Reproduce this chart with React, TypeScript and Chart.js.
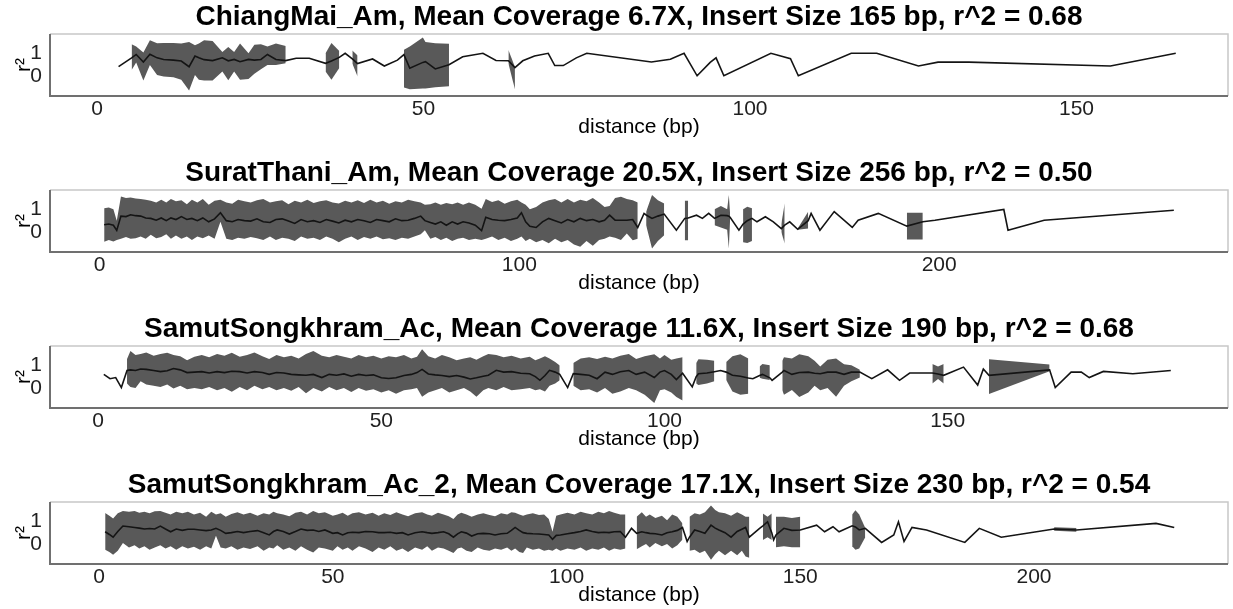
import React, { useEffect, useRef } from "react";
import { Chart, registerables } from "chart.js";

Chart.register(...registerables);

const FONT = "'Liberation Sans', Arial, Helvetica, sans-serif";

// ---------- shared axis ticks ----------
const yTicks = [0, 1];
const yLimits = [-0.88, 1.85];

// ---------- Panel 1: ChiangMai_Am ----------
const title1 = "ChiangMai_Am, Mean Coverage 6.7X, Insert Size 165 bp, r^2 = 0.68";
const xTicks1 = [0, 50, 100, 150];
const xLimits1 = [-7.2, 173.2];
const dist1 = [3.3, 5.3, 6.0, 7.1, 8.1, 9.2, 10.2, 11.7, 12.9, 14.1,
  15.0, 15.6, 16.4, 17.7, 19.2, 20.1, 21.0, 21.9, 23.2, 24.1,
  25.1, 26.1, 27.4, 28.9, 30.5, 32.5, 35.0, 35.9, 37.1, 38.0,
  39.1, 39.9, 42.2, 44.0, 46.0, 47.0, 47.9, 49.9, 50.3, 51.8,
  53.9, 56.0, 59.1, 61.1, 63.0, 64.0, 65.2, 67.0, 69.1, 70.1,
  71.4, 73.4, 75.0, 84.9, 87.8, 89.9, 91.9, 93.9, 94.8, 96.0,
  103.2, 106.2, 107.4, 115.5, 119.4, 125.8, 128.8, 133.5, 155.2, 165.2];
const mean1 = [0.41, 0.8, 0.95, 0.62, 0.96, 0.8, 0.73, 0.7, 0.66, 0.41,
  0.88, 0.8, 0.72, 0.68, 0.8, 0.67, 0.73, 0.63, 0.73, 0.7,
  0.73, 0.95, 0.73, 0.68, 0.78, 0.78, 0.56, 0.66, 0.82, 1.0,
  0.75, 0.55, 0.75, 0.44, 0.7, 0.94, 0.34, 0.6, 0.63, 0.31,
  0.5, 0.85, 1.0, 0.68, 0.67, 0.37, 0.67, 0.88, 1.0, 0.46,
  0.46, 0.8, 1.0, 0.62, 0.74, 1.0, 0.01, 0.6, 0.8, 0.01,
  1.0, 0.76, 0.01, 1.0, 1.0, 0.44, 0.61, 0.61, 0.44, 1.0];
const lower1 = [null, 0.27, 0.6, -0.2, 0.48, 0.05, -0.02, -0.05, -0.16, -0.64,
  0.05, -0.16, -0.2, -0.2, 0.2, -0.19, 0.2, -0.16, -0.13, 0.1,
  0.3, 0.48, 0.48, 0.56, null, null, 0.2, -0.16, 0.35, null,
  0.55, -0.02, null, null, null, -0.5, -0.58, -0.55, -0.55, -0.5,
  -0.45, null, null, null, 0.55, -0.58, null, null, null, null,
  null, null, null, null, null, null, null, null, null, null,
  null, null, null, null, null, null, null, null, null, null];
const upper1 = [null, 1.4, 1.3, 1.03, 1.58, 1.44, 1.45, 1.45, 1.43, 1.5,
  1.36, 1.43, 1.57, 1.54, 1.06, 1.28, 1.06, 1.43, 1.0, 1.38,
  1.4, 1.3, 1.43, 1.32, null, null, 1.0, 1.45, 1.1, null,
  1.12, 0.9, null, null, null, 1.15, 1.3, 1.7, 1.5, 1.44,
  1.42, null, null, null, 1.15, 0.4, null, null, null, null,
  null, null, null, null, null, null, null, null, null, null,
  null, null, null, null, null, null, null, null, null, null];

// ---------- Panel 2: SuratThani_Am ----------
const title2 = "SuratThani_Am, Mean Coverage 20.5X, Insert Size 256 bp, r^2 = 0.50";
const xTicks2 = [0, 100, 200];
const xLimits2 = [-11.8, 268.8];
const dist2 = [1.1, 2.2, 3.3, 4.1, 5.1, 6.3, 7.4, 8.6, 9.8, 11.0,
  12.2, 13.5, 14.7, 15.9, 17.0, 18.2, 19.5, 20.8, 22.0, 23.3,
  24.6, 26.0, 27.4, 28.8, 30.2, 31.6, 33.0, 34.5, 36.0, 37.5,
  39.0, 40.6, 42.0, 43.5, 45.0, 46.5, 48.0, 49.5, 51.0, 52.5,
  54.0, 55.5, 57.0, 58.5, 60.0, 61.5, 63.0, 64.5, 66.0, 67.5,
  69.0, 70.5, 72.0, 73.5, 75.0, 76.5, 77.5, 78.8, 80.0, 81.3,
  82.6, 84.0, 85.3, 86.6, 88.0, 89.5, 91.0, 92.0, 93.5, 95.0,
  96.5, 98.0, 99.5, 100.5, 101.5, 102.5, 104.0, 105.5, 107.0, 108.5,
  110.0, 111.5, 113.0, 114.5, 116.0, 117.5, 119.0, 120.3, 121.5, 122.8,
  124.2, 125.6, 127.0, 128.2, 129.7, 130.2, 131.6, 133.0, 134.5, 137.4,
  139.4, 140.2, 142.2, 143.6, 145.1, 146.5, 148.0, 149.5, 149.9, 150.2,
  152.3, 153.3, 154.3, 155.4, 156.6, 158.6, 160.5, 162.4, 163.2, 164.4,
  166.3, 168.8, 169.5, 171.6, 175.0, 179.3, 180.7, 185.5, 192.3, 196.1,
  199.0, 215.4, 216.4, 225.0, 255.9];
const mean2 = [0.32, 0.35, 0.3, 0.07, 0.7, 0.68, 0.76, 0.72, 0.7, 0.62,
  0.6, 0.52, 0.62, 0.5, 0.62, 0.55, 0.68, 0.55, 0.6, 0.5,
  0.62, 0.45, 0.58, 0.85, 0.5, 0.45, 0.55, 0.5, 0.48, 0.58,
  0.45, 0.42, 0.55, 0.58, 0.48, 0.38, 0.55, 0.45, 0.5, 0.42,
  0.55, 0.48, 0.4, 0.52, 0.45, 0.55, 0.5, 0.42, 0.55, 0.5,
  0.45, 0.58, 0.5, 0.52, 0.6, 0.7, 0.5, 0.42, 0.35, 0.45,
  0.3, 0.45, 0.35, 0.45, 0.4, 0.3, 0.06, 0.65, 0.55, 0.52,
  0.5, 0.55, 0.62, 0.85, 0.45, 0.25, 0.2, 0.45, 0.6, 0.5,
  0.4, 0.55, 0.45, 0.6, 0.5, 0.55, 0.45, 0.52, 0.74, 0.52,
  0.52, 0.52, 0.55, 0.2, 0.82, 0.75, 0.6, 0.7, 0.79, 0.08,
  0.6, 0.62, 0.74, 0.6, 0.82, 0.6, 0.74, 0.72, 0.7, 0.65,
  0.08, 0.35, 0.5, 0.6, 0.45, 0.67, 0.45, 0.15, 0.3, 0.45,
  0.12, 0.5, 0.82, 0.08, 0.9, 0.2, 0.52, 0.82, 0.26, 0.45,
  0.52, 0.99, 0.08, 0.52, 0.96];
const lower2 = [-0.43, -0.35, -0.42, -0.35, -0.3, -0.22, -0.3, -0.28, -0.2, -0.3,
  -0.12, -0.28, -0.22, -0.1, -0.3, -0.15, -0.3, -0.2, -0.35, -0.2,
  -0.28, -0.15, -0.3, 0.45, -0.3, -0.35, -0.25, -0.3, -0.22, -0.28,
  -0.35, -0.2, -0.35, -0.25, -0.3, -0.4, -0.2, -0.3, -0.25, -0.35,
  -0.2, -0.3, -0.45, -0.3, -0.2, -0.35, -0.22, -0.3, -0.2, -0.32,
  -0.28, -0.35, -0.25, -0.3, -0.2, -0.1, 0.08, -0.3, -0.22, -0.35,
  -0.25, -0.4, -0.3, -0.25, -0.35, -0.3, -0.35, -0.3, -0.2, -0.35,
  -0.25, -0.4, -0.3, -0.2, -0.4, -0.3, -0.45, -0.35, -0.5, -0.3,
  -0.45, -0.35, -0.55, -0.65, -0.4, -0.6, -0.35, -0.3, -0.2, -0.25,
  -0.35, -0.07, -0.36, -0.3, null, 0.3, -0.73, -0.4, -0.14, null,
  -0.36, -0.36, null, null, null, 0.3, 0.2, 0.1, -0.73, 0.55,
  null, -0.45, -0.48, -0.4, null, null, null, 0.0, -0.51, null,
  0.1, 0.15, null, null, null, null, null, null, -0.33, -0.33,
  null, null, null, null, null];
const upper2 = [1.05, 1.08, 1.0, 0.5, 1.56, 1.5, 1.52, 1.48, 1.45, 1.42,
  1.38, 1.3, 1.42, 1.3, 1.45, 1.35, 1.4, 1.22, 1.42, 1.3,
  1.45, 1.2, 1.38, 1.42, 1.3, 1.25, 1.42, 1.36, 1.3, 1.4,
  1.45, 1.3, 1.35, 1.4, 1.22, 1.38, 1.3, 1.42, 1.28, 1.35,
  1.4, 1.3, 1.26, 1.38, 1.3, 1.4, 1.28, 1.42, 1.3, 1.38,
  1.25, 1.36, 1.3, 1.42, 1.35, 1.3, 1.2, 1.22, 1.3, 1.2,
  1.28, 1.22, 1.3, 1.2, 1.3, 1.2, 1.02, 1.45, 1.32, 1.4,
  1.25, 1.35, 1.42, 1.3, 1.2, 1.0, 1.1, 1.3, 1.4, 1.45,
  1.3, 1.45, 1.3, 1.42, 1.35, 1.5, 1.3, 1.1, 1.15, 1.5,
  1.55, 1.45, 1.4, 1.3, null, 0.89, 1.63, 1.4, 1.26, null,
  1.38, 1.38, null, null, null, 1.0, 1.15, 1.0, 1.63, 0.8,
  null, 1.0, 1.11, 1.05, null, null, null, 0.35, 1.26, null,
  0.15, 0.89, null, null, null, null, null, null, 0.85, 0.85,
  null, null, null, null, null];

// ---------- Panel 3: SamutSongkhram_Ac ----------
const title3 = "SamutSongkhram_Ac, Mean Coverage 11.6X, Insert Size 190 bp, r^2 = 0.68";
const xTicks3 = [0, 50, 100, 150];
const xLimits3 = [-8.5, 199.5];
const dist3 = [1.0, 2.1, 3.1, 4.1, 5.1, 5.7, 6.6, 7.5, 8.5, 9.8,
  11.0, 12.2, 13.3, 14.5, 15.7, 17.0, 18.3, 19.6, 21.0, 22.3,
  23.6, 25.0, 26.3, 27.6, 29.0, 30.2, 31.5, 32.8, 34.1, 35.4,
  36.7, 38.0, 39.5, 40.8, 42.1, 43.4, 44.7, 46.0, 47.3, 48.6,
  50.0, 51.3, 52.6, 54.0, 55.3, 56.3, 57.2, 58.3, 59.5, 60.7,
  62.0, 63.3, 64.6, 65.7, 66.8, 68.0, 68.9, 70.3, 71.6, 73.0,
  74.6, 76.2, 77.2, 78.0, 78.9, 79.7, 80.7, 81.5, 82.9, 83.9,
  85.2, 86.7, 88.1, 89.5, 90.8, 92.2, 93.7, 95.0, 96.5, 98.2,
  99.2, 100.0, 101.2, 102.1, 103.2, 104.9, 105.6, 106.0, 107.5, 108.8,
  109.9, 110.9, 112.0, 113.4, 114.8, 115.6, 116.8, 117.3, 118.6, 119.0,
  120.8, 121.1, 122.5, 123.8, 125.4, 126.5, 127.5, 128.8, 130.3, 131.7,
  133.0, 134.5, 136.6, 139.4, 141.5, 143.3, 147.3, 148.3, 149.3, 152.8,
  155.3, 156.3, 157.3, 168.0, 169.0, 171.8, 173.6, 175.0, 177.5, 182.7,
  189.4];
const mean3 = [0.6, 0.41, 0.46, 0.02, 0.77, 0.8, 0.77, 0.84, 0.82, 0.77,
  0.72, 0.76, 0.86, 0.8, 0.68, 0.7, 0.72, 0.66, 0.72, 0.68,
  0.74, 0.72, 0.66, 0.72, 0.68, 0.6, 0.68, 0.66, 0.6, 0.58,
  0.56, 0.6, 0.46, 0.6, 0.56, 0.62, 0.52, 0.6, 0.55, 0.58,
  0.45, 0.42, 0.45, 0.55, 0.6, 0.68, 0.82, 0.62, 0.58, 0.55,
  0.5, 0.55, 0.48, 0.4, 0.45, 0.52, 0.56, 0.78, 0.7, 0.72,
  0.65, 0.63, 0.5, 0.34, 0.55, 0.78, 0.7, 0.6, 0.02, 0.63,
  0.6, 0.56, 0.41, 0.7, 0.6, 0.72, 0.77, 0.6, 0.7, 0.46,
  0.7, 0.77, 0.6, 0.37, 0.65, 0.05, 0.5, 0.63, 0.66, 0.72,
  0.77, 0.7, 0.56, 0.52, 0.44, 0.41, 0.55, 0.6, 0.45, 0.34,
  0.7, 0.77, 0.6, 0.68, 0.7, 0.65, 0.63, 0.7, 0.7, 0.6,
  0.7, 0.7, 0.41, 0.8, 0.34, 0.66, 0.66, 0.62, 0.56, 0.92,
  0.13, 0.84, 0.56, 0.8, 0.02, 0.7, 0.7, 0.46, 0.73, 0.63,
  0.77];
const lower3 = [null, null, null, null, 0.2, 0.05, 0.0, 0.3, 0.15, 0.1,
  0.05, 0.15, -0.02, 0.1, -0.05, 0.0, -0.05, 0.05, -0.1, 0.0,
  -0.16, 0.05, -0.1, 0.1, -0.05, 0.05, -0.1, 0.0, -0.12, 0.05,
  -0.23, 0.0, -0.15, 0.05, -0.1, 0.0, -0.18, 0.0, -0.12, -0.05,
  -0.2, -0.1, -0.25, -0.1, -0.05, 0.0, -0.38, -0.2, -0.1, 0.0,
  -0.2, -0.1, 0.0, -0.15, -0.38, -0.1, 0.0, -0.1, 0.05, -0.1,
  -0.05, 0.0, -0.1, -0.05, -0.15, 0.1, 0.2, 0.34, null, 0.1,
  -0.1, -0.05, -0.2, 0.0, -0.25, -0.15, 0.0, -0.1, -0.3, -0.66,
  -0.1, -0.05, -0.2, -0.4, -0.55, null, 0.2, 0.13, 0.2, 0.3,
  null, 0.35, -0.15, -0.3, -0.25, null, 0.45, 0.41, 0.35, null,
  -0.1, -0.3, -0.09, -0.4, -0.2, 0.1, -0.1, 0.0, -0.38, 0.1,
  0.3, 0.46, null, null, null, null, 0.2, 0.4, 0.2, null,
  null, null, -0.26, 0.74, null, null, null, null, null, null,
  null];
const upper3 = [null, null, null, null, 1.28, 1.63, 1.45, 1.5, 1.56, 1.42,
  1.5, 1.55, 1.45, 1.4, 1.22, 1.38, 1.45, 1.35, 1.5, 1.42,
  1.55, 1.38, 1.45, 1.56, 1.4, 1.28, 1.45, 1.35, 1.42, 1.3,
  1.5, 1.63, 1.42, 1.35, 1.45, 1.38, 1.3, 1.45, 1.35, 1.42,
  1.3, 1.4, 1.35, 1.45, 1.3, 1.38, 1.71, 1.4, 1.3, 1.45,
  1.35, 1.22, 1.3, 1.35, 1.25, 1.4, 1.5, 1.45, 1.35, 1.42,
  1.3, 1.38, 1.22, 1.3, 1.4, 1.3, 1.15, 0.99, null, 1.1,
  1.3, 1.35, 1.28, 1.38, 1.3, 1.42, 1.5, 1.28, 1.4, 1.49,
  1.3, 1.45, 1.25, 1.3, 1.35, null, 1.1, 1.27, 1.25, 1.2,
  null, 1.15, 1.4, 1.49, 1.3, null, 0.95, 1.06, 1.0, null,
  1.2, 1.35, 1.3, 1.49, 1.4, 1.2, 0.95, 1.25, 1.3, 1.05,
  1.0, 0.8, null, null, null, null, 1.06, 0.95, 1.06, null,
  null, null, 1.27, 1.03, null, null, null, null, null, null,
  null];

// ---------- Panel 4: SamutSongkhram_Ac_2 ----------
const title4 = "SamutSongkhram_Ac_2, Mean Coverage 17.1X, Insert Size 230 bp, r^2 = 0.54";
const xTicks4 = [0, 50, 100, 150, 200];
const xLimits4 = [-10.5, 241.5];
const dist4 = [1.3, 2.2, 3.0, 4.0, 5.1, 6.4, 7.6, 8.6, 9.7, 10.8,
  11.9, 13.1, 14.2, 15.3, 16.5, 17.8, 19.0, 20.3, 21.6, 22.9,
  24.0, 25.0, 26.0, 27.1, 28.3, 29.6, 30.9, 32.3, 33.9, 35.2,
  36.4, 37.3, 38.1, 39.4, 40.7, 42.0, 43.2, 44.5, 45.8, 47.0,
  48.3, 50.0, 51.0, 52.1, 53.2, 54.2, 55.6, 57.0, 58.5, 59.8,
  61.0, 62.3, 63.6, 64.9, 66.1, 67.6, 69.1, 70.2, 71.2, 72.5,
  73.7, 74.8, 75.8, 76.7, 77.5, 78.6, 79.7, 81.0, 82.2, 83.5,
  84.7, 86.0, 87.3, 88.2, 89.0, 89.9, 90.7, 91.5, 92.8, 94.1,
  95.2, 96.2, 97.0, 97.8, 98.7, 100.2, 101.7, 103.0, 104.2, 105.5,
  106.8, 108.0, 109.1, 110.2, 111.5, 112.6, 113.9, 115.0, 116.1, 117.0,
  117.8, 119.0, 120.4, 121.5, 122.6, 123.7, 124.8, 125.8, 126.3, 127.4,
  128.5, 129.6, 130.9, 131.8, 132.6, 133.9, 135.2, 136.5, 137.5, 138.3,
  139.1, 141.3, 142.0, 143.0, 143.9, 144.3, 144.8, 146.5, 148.2, 150.0,
  153.5, 155.2, 157.0, 158.3, 161.1, 161.8, 162.6, 163.9, 167.4, 170.0,
  171.0, 172.2, 173.9, 177.0, 185.2, 188.3, 193.0, 204.3, 209.1, 226.1,
  230.0];
const mean4 = [0.54, 0.42, 0.3, 0.55, 0.79, 0.76, 0.73, 0.7, 0.66, 0.68,
  0.66, 0.79, 0.66, 0.54, 0.66, 0.6, 0.65, 0.65, 0.62, 0.59,
  0.62, 0.69, 0.6, 0.47, 0.5, 0.55, 0.5, 0.55, 0.59, 0.5,
  0.4, 0.55, 0.62, 0.55, 0.44, 0.55, 0.66, 0.6, 0.62, 0.55,
  0.62, 0.47, 0.5, 0.4, 0.5, 0.52, 0.5, 0.55, 0.54, 0.5,
  0.5, 0.52, 0.47, 0.5, 0.4, 0.5, 0.54, 0.5, 0.47, 0.5,
  0.54, 0.45, 0.3, 0.45, 0.54, 0.48, 0.35, 0.45, 0.47, 0.45,
  0.4, 0.45, 0.47, 0.6, 0.73, 0.6, 0.5, 0.47, 0.45, 0.44,
  0.42, 0.4, 0.21, 0.38, 0.4, 0.45, 0.5, 0.55, 0.62, 0.55,
  0.5, 0.52, 0.5, 0.54, 0.55, 0.3, 0.69, 0.47, 0.54, 0.5,
  0.47, 0.45, 0.4, 0.5, 0.54, 0.6, 0.73, 0.11, 0.3, 0.62,
  0.55, 0.47, 0.83, 0.7, 0.62, 0.5, 0.3, 0.55, 0.65, 0.73,
  0.3, 0.69, 0.8, 0.98, 0.5, 0.18, 0.4, 0.69, 0.6, 0.62,
  0.83, 0.54, 0.76, 0.54, 0.8, 0.75, 0.62, 0.69, 0.07, 0.4,
  0.98, 0.11, 0.73, 0.62, 0.07, 0.69, 0.3, 0.66, 0.62, 0.91,
  0.73];
const lower4 = [-0.25, -0.35, -0.47, -0.3, 0.05, -0.15, -0.05, -0.2, -0.1, -0.25,
  -0.15, -0.05, -0.2, -0.1, -0.25, -0.1, -0.2, -0.12, -0.25, -0.1,
  -0.2, 0.36, -0.15, -0.2, -0.1, -0.25, -0.15, -0.22, -0.1, -0.3,
  -0.15, -0.2, -0.05, -0.25, -0.15, -0.3, -0.1, -0.25, -0.37, -0.15,
  -0.2, -0.3, -0.1, -0.25, -0.15, -0.3, -0.1, -0.2, -0.35, -0.15,
  -0.25, -0.1, -0.3, -0.2, -0.35, -0.15, -0.25, -0.1, -0.3, -0.15,
  -0.2, -0.3, -0.4, -0.2, -0.15, -0.3, -0.35, -0.15, -0.25, -0.3,
  -0.2, -0.25, -0.15, -0.3, -0.2, -0.35, -0.4, -0.15, -0.25, -0.2,
  -0.3, -0.25, -0.3, -0.2, -0.3, -0.2, -0.25, -0.15, -0.3, -0.2,
  -0.25, -0.15, -0.3, -0.2, -0.25, -0.2, null, -0.23, -0.1, 0.0,
  -0.15, 0.04, -0.1, 0.0, -0.2, -0.05, 0.2, null, -0.3, -0.25,
  -0.4, -0.3, -0.69, -0.45, -0.3, -0.5, -0.3, -0.5, -0.3, -0.55,
  -0.6, null, 0.18, 0.3, 0.18, null, -0.14, -0.1, -0.14, -0.14,
  null, null, null, null, -0.1, -0.25, -0.2, 0.3, null, null,
  null, null, null, null, null, null, null, 0.58, 0.54, null,
  null];
const upper4 = [1.37, 1.25, 1.12, 1.35, 1.45, 1.42, 1.45, 1.38, 1.42, 1.35,
  1.44, 1.45, 1.38, 1.3, 1.42, 1.35, 1.42, 1.3, 1.38, 1.2,
  1.42, 1.3, 1.35, 1.2, 1.32, 1.4, 1.3, 1.38, 1.25, 1.35,
  1.3, 1.42, 1.35, 1.3, 1.22, 1.38, 1.42, 1.3, 1.45, 1.35,
  1.4, 1.25, 1.3, 1.38, 1.25, 1.35, 1.4, 1.3, 1.38, 1.25,
  1.35, 1.28, 1.4, 1.3, 1.22, 1.35, 1.4, 1.3, 1.25, 1.38,
  1.3, 1.22, 1.1, 1.3, 1.38, 1.3, 1.2, 1.3, 1.35, 1.28,
  1.22, 1.35, 1.3, 1.4, 1.38, 1.3, 1.25, 1.3, 1.35, 1.28,
  1.3, 1.1, 0.54, 1.25, 1.3, 1.38, 1.3, 1.42, 1.35, 1.3,
  1.42, 1.35, 1.45, 1.38, 1.3, 1.3, null, 1.2, 1.4, 1.2,
  1.3, 1.15, 1.25, 1.05, 1.3, 1.2, 0.9, null, 1.2, 1.35,
  1.3, 1.4, 1.7, 1.5, 1.4, 1.35, 1.25, 1.4, 1.3, 1.2,
  1.2, null, 1.34, 1.2, 1.34, null, 1.2, 1.2, 1.15, 1.2,
  null, null, null, null, 1.3, 1.49, 1.3, 0.7, null, null,
  null, null, null, null, null, null, null, 0.74, 0.7, null,
  null];

const panels = [
  { title: title1, xTicks: xTicks1, xLimits: xLimits1, dist: dist1, mean: mean1, lower: lower1, upper: upper1 },
  { title: title2, xTicks: xTicks2, xLimits: xLimits2, dist: dist2, mean: mean2, lower: lower2, upper: upper2 },
  { title: title3, xTicks: xTicks3, xLimits: xLimits3, dist: dist3, mean: mean3, lower: lower3, upper: upper3 },
  { title: title4, xTicks: xTicks4, xLimits: xLimits4, dist: dist4, mean: mean4, lower: lower4, upper: upper4 },
];

const panelTops = [0, 156, 312, 468];
const CANVAS_W = 1233;
const CANVAS_H = 140;

const framePlugin = {
  id: "panelFrame",
  beforeDatasetsDraw(chart: any) {
    const { ctx, chartArea } = chart;
    const { left, right, top, bottom } = chartArea;
    ctx.save();
    ctx.lineWidth = 1.5;
    ctx.strokeStyle = "#c8c8c8";
    ctx.beginPath();
    ctx.moveTo(left, top);
    ctx.lineTo(right, top);
    ctx.lineTo(right, bottom);
    ctx.stroke();
    ctx.restore();
  },
  afterDatasetsDraw(chart: any) {
    const { ctx, chartArea } = chart;
    const { left, right, top, bottom } = chartArea;
    ctx.save();
    ctx.lineWidth = 2;
    ctx.strokeStyle = "#707070";
    ctx.beginPath();
    ctx.moveTo(left, top);
    ctx.lineTo(left, bottom);
    ctx.lineTo(right, bottom);
    ctx.stroke();
    ctx.restore();
  },
};

type PanelCfg = (typeof panels)[number];

function Panel({ cfg, top }: { cfg: PanelCfg; top: number }) {
  const ref = useRef<HTMLCanvasElement | null>(null);
  useEffect(() => {
    if (!ref.current) return;
    const meanPts = cfg.dist.map((x, i) => ({ x, y: cfg.mean[i] }));
    const upPts = cfg.dist.map((x, i) => ({ x, y: cfg.upper[i] }));
    const loPts = cfg.dist.map((x, i) => ({ x, y: cfg.lower[i] }));
    const chart = new Chart(ref.current, {
      type: "line",
      data: {
        datasets: [
          {
            label: "mean r2",
            data: meanPts,
            borderColor: "#141414",
            borderWidth: 1.6,
            pointRadius: 0,
            fill: false,
            tension: 0,
          },
          {
            label: "upper",
            data: upPts,
            borderColor: "rgba(0,0,0,0)",
            borderWidth: 0,
            pointRadius: 0,
            fill: false,
            spanGaps: false,
          },
          {
            label: "lower",
            data: loPts,
            borderColor: "rgba(0,0,0,0)",
            borderWidth: 0,
            backgroundColor: "#595959",
            pointRadius: 0,
            fill: "-1",
            spanGaps: false,
          },
        ],
      } as any,
      options: {
        responsive: false,
        animation: false,
        events: [],
        layout: { padding: { left: 0, right: 5, top: 0, bottom: 0 } },
        plugins: {
          legend: { display: false },
          tooltip: { enabled: false },
          title: {
            display: true,
            text: cfg.title,
            fullSize: false,
            color: "#000",
            font: { family: FONT, size: 28, weight: "bold", lineHeight: 1 },
            padding: { top: 3, bottom: 3 },
          },
        },
        scales: {
          x: {
            type: "linear",
            min: cfg.xLimits[0],
            max: cfg.xLimits[1],
            grid: { display: false, drawTicks: false },
            border: { display: false },
            afterBuildTicks: (s: any) => {
              s.ticks = cfg.xTicks.map((v) => ({ value: v }));
            },
            afterFit: (s: any) => {
              s.height = 44;
            },
            ticks: {
              font: { family: FONT, size: 21 },
              color: "#1f1f1f",
              padding: 1,
              maxRotation: 0,
              autoSkip: false,
            },
            title: {
              display: true,
              text: "distance (bp)",
              color: "#000",
              font: { family: FONT, size: 21, lineHeight: 1.2 },
              padding: { top: 0, bottom: 0 },
            },
          },
          y: {
            type: "linear",
            min: yLimits[0],
            max: yLimits[1],
            grid: { display: false, drawTicks: false },
            border: { display: false },
            afterBuildTicks: (s: any) => {
              s.ticks = yTicks.map((v) => ({ value: v }));
            },
            afterFit: (s: any) => {
              s.width = 50;
            },
            ticks: {
              font: { family: FONT, size: 21 },
              color: "#1f1f1f",
              padding: 8,
            },
            title: {
              display: true,
              text: "r²",
              color: "#000",
              font: { family: FONT, size: 21, lineHeight: 1.2 },
              padding: { top: 12, bottom: 0 },
            },
          },
        },
      } as any,
      plugins: [framePlugin],
    });
    return () => chart.destroy();
  }, [cfg]);
  return (
    <div style={{ position: "absolute", left: 0, top, width: CANVAS_W, height: CANVAS_H }}>
      <canvas ref={ref} width={CANVAS_W} height={CANVAS_H} style={{ display: "block" }} />
    </div>
  );
}

export default function App() {
  return (
    <div
      style={{
        position: "absolute",
        left: 0,
        top: 0,
        width: CANVAS_W,
        height: 609,
        background: "#fff",
        overflow: "hidden",
      }}
    >
      {panels.map((p, i) => (
        <Panel key={i} cfg={p} top={panelTops[i]} />
      ))}
    </div>
  );
}
